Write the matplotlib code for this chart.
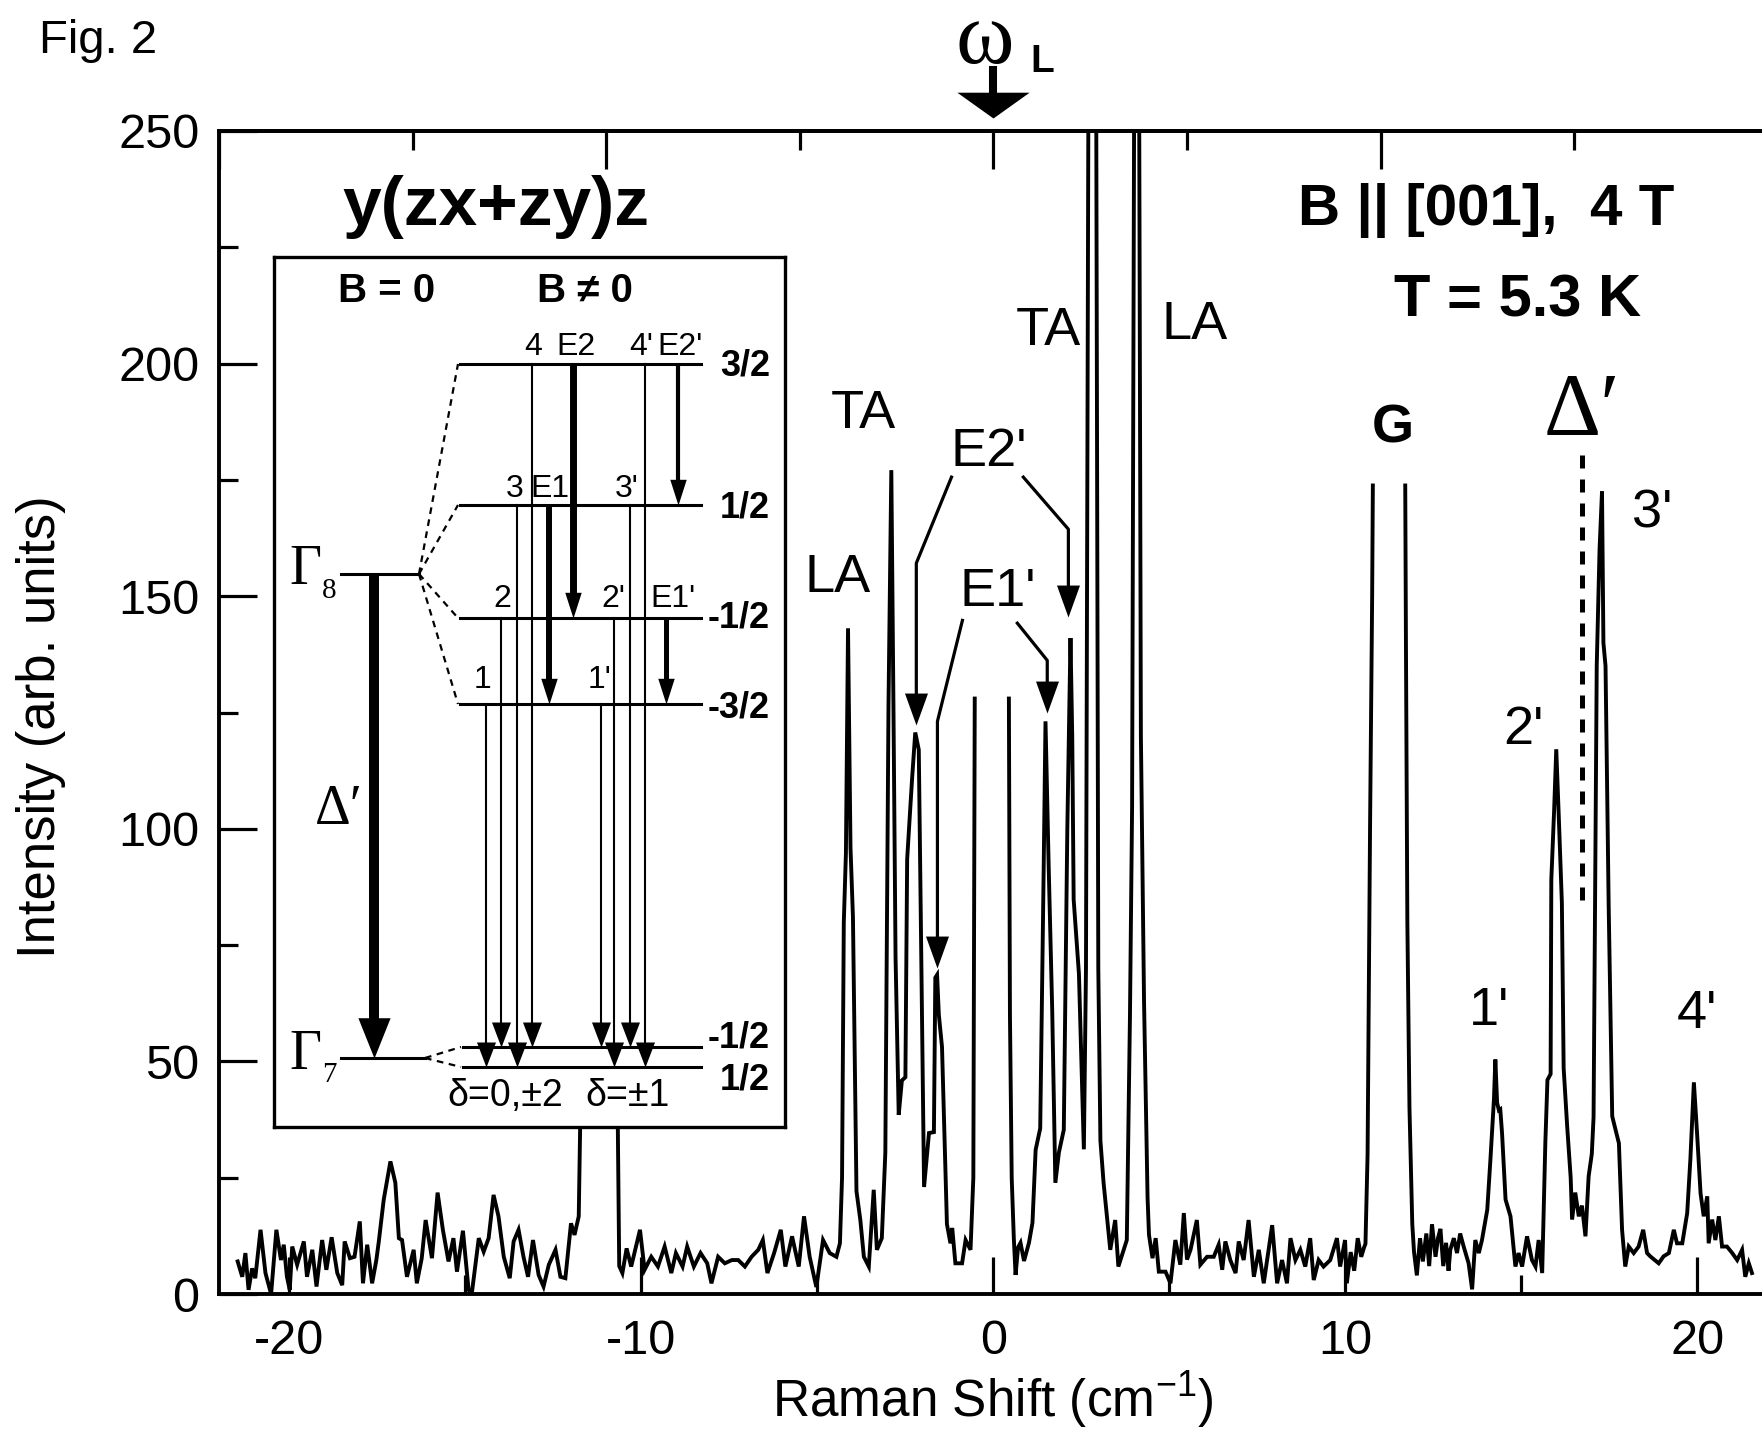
import numpy as np
import matplotlib
matplotlib.use("Agg")
import matplotlib.pyplot as plt
from matplotlib.ticker import MultipleLocator

plt.rcParams['font.family'] = ['Liberation Sans', 'DejaVu Sans']
plt.rcParams['mathtext.fontset'] = 'custom'
plt.rcParams['mathtext.rm'] = 'Liberation Sans'
plt.rcParams['axes.unicode_minus'] = False

W, H = 1762, 1437
SERIF = ['Liberation Serif', 'DejaVu Serif']

# ---- spectrum (Raman shift in cm^-1, intensity arb. units)
# three pieces: the original trace is cut at the laser line and at the G line
shift_a = [-21.47, -21.34, -21.25, -21.16, -21.06, -20.97, -20.82, -20.68, -20.52, -20.37,
           -20.24, -20.16, -20.07, -19.99, -19.92, -19.78, -19.59, -19.50, -19.35, -19.23,
           -19.07, -18.95, -18.80, -18.64, -18.50, -18.43, -18.28, -18.15, -18.00, -17.91,
           -17.79, -17.65, -17.53, -17.46, -17.32, -17.13, -16.99, -16.89, -16.80, -16.66,
           -16.47, -16.38, -16.24, -16.13, -15.95, -15.79, -15.64, -15.48, -15.34, -15.24,
           -15.07, -14.91, -14.82, -14.62, -14.48, -14.34, -14.20, -14.06, -13.91, -13.74,
           -13.63, -13.49, -13.35, -13.22, -13.08, -12.92, -12.78, -12.63, -12.44, -12.30,
           -12.16, -12.00, -11.90, -11.78, -11.74, -11.60, -11.20, -10.80, -10.67, -10.63,
           -10.54, -10.42, -10.29, -10.04, -9.91, -9.72, -9.53, -9.34, -9.15, -9.02,
           -8.83, -8.70, -8.51, -8.32, -8.13, -8.01, -7.82, -7.63, -7.43, -7.25,
           -7.06, -6.87, -6.68, -6.55, -6.42, -6.23, -6.04, -5.91, -5.72, -5.53,
           -5.38, -5.22, -5.03, -4.84, -4.65, -4.46, -4.36, -4.30, -4.25, -4.19,
           -4.13, -4.06, -3.99, -3.89, -3.78, -3.68, -3.54, -3.40, -3.31, -3.17,
           -3.07, -2.98, -2.90, -2.84, -2.78, -2.69, -2.60, -2.50, -2.45, -2.31,
           -2.22, -2.12, -2.07, -1.97, -1.83, -1.69, -1.65, -1.60, -1.55, -1.46,
           -1.32, -1.22, -1.17, -1.08, -0.89, -0.79, -0.65, -0.57, -0.53]
int_a = [7.0, 3.7, 8.8, 0.9, 5.5, 3.4, 13.8, 4.5, 0.0, 13.8,
         7.3, 10.6, 3.7, 0.9, 10.2, 6.3, 11.3, 3.7, 9.5, 1.6,
         11.6, 5.2, 12.2, 4.5, 1.9, 11.3, 7.7, 8.0, 15.6, 2.3,
         10.6, 2.3, 7.3, 11.3, 20.3, 28.5, 23.9, 12.0, 11.6, 3.7,
         9.5, 2.3, 7.7, 15.9, 7.7, 21.8, 13.8, 7.0, 12.0, 4.8,
         13.6, 0.9, 0.0, 12.0, 9.1, 12.0, 21.3, 16.7, 8.0, 3.4,
         11.3, 13.8, 8.0, 3.7, 11.6, 4.1, 1.6, 6.3, 9.5, 3.7,
         3.4, 15.2, 12.7, 16.7, 36.0, 120.0, 175.0, 120.0, 36.0, 6.0,
         4.5, 9.8, 5.9, 13.8, 5.2, 8.0, 5.9, 10.2, 4.5, 8.8,
         5.9, 10.2, 5.9, 8.8, 6.6, 2.3, 8.0, 6.6, 7.3, 7.3,
         5.9, 8.0, 9.5, 11.6, 4.5, 8.8, 13.8, 5.9, 12.4, 5.9,
         16.7, 8.0, 1.5, 11.6, 8.8, 8.0, 10.9, 25.0, 79.9, 94.7,
         143.1, 96.0, 81.0, 22.1, 15.9, 8.0, 5.9, 22.4, 9.5, 12.0,
         30.4, 126.8, 177.1, 126.8, 72.5, 38.5, 45.9, 46.6, 93.5, 110.8,
         120.7, 117.0, 86.1, 23.0, 34.6, 34.8, 68.0, 68.6, 60.0, 53.1,
         15.0, 10.9, 14.2, 6.6, 6.6, 11.6, 9.5, 25.0, 128.0]

shift_b = [0.44, 0.47, 0.52, 0.58, 0.63, 0.70, 0.77, 0.87, 1.01, 1.11,
           1.20, 1.33, 1.43, 1.48, 1.57, 1.67, 1.76, 1.86, 2.00, 2.10,
           2.19, 2.24, 2.28, 2.43, 2.57, 2.63, 2.70, 2.92, 2.98, 3.04,
           3.13, 3.32, 3.46, 3.55, 3.79, 3.88, 3.94, 4.00, 4.14, 4.19,
           4.28, 4.38, 4.42, 4.52, 4.61, 4.70, 4.89, 5.03, 5.17, 5.31,
           5.41, 5.50, 5.60, 5.78, 5.88, 6.07, 6.26, 6.40, 6.50, 6.59,
           6.73, 6.88, 6.97, 7.11, 7.25, 7.40, 7.54, 7.68, 7.92, 8.06,
           8.20, 8.34, 8.44, 8.58, 8.72, 8.86, 9.00, 9.10, 9.24, 9.38,
           9.57, 9.76, 9.85, 9.99, 10.04, 10.15, 10.25, 10.35, 10.45, 10.53,
           10.57, 10.63, 10.70, 10.76, 10.78]
int_b = [128.0, 60.0, 25.0, 12.0, 4.1, 10.0, 11.0, 7.1, 11.0, 15.3,
         31.0, 35.6, 92.4, 123.1, 92.0, 61.3, 23.9, 30.4, 35.3, 100.0,
         141.0, 119.7, 84.8, 68.8, 31.1, 70.0, 260.0, 260.0, 70.0, 33.0,
         23.9, 9.5, 15.9, 5.9, 11.6, 60.0, 104.6, 260.0, 260.0, 120.0,
         62.6, 20.6, 12.7, 7.7, 12.0, 4.8, 4.8, 2.3, 11.6, 6.3,
         17.4, 7.4, 9.5, 15.9, 6.3, 8.0, 8.0, 10.6, 5.2, 11.3,
         7.3, 4.5, 11.3, 7.3, 15.9, 3.7, 9.5, 2.3, 14.8, 2.3,
         7.3, 2.3, 12.0, 7.3, 9.5, 5.9, 12.0, 3.0, 7.3, 5.9,
         7.3, 12.0, 5.9, 11.6, 2.3, 9.0, 5.0, 12.0, 8.0, 10.0,
         10.8, 30.0, 100.0, 150.0, 173.8]

shift_c = [11.70, 11.72, 11.76, 11.82, 11.90, 11.95, 12.03, 12.12, 12.20, 12.30,
           12.38, 12.46, 12.56, 12.63, 12.70, 12.78, 12.86, 12.93, 12.98, 13.08,
           13.17, 13.26, 13.36, 13.50, 13.60, 13.69, 13.79, 13.88, 14.03, 14.12,
           14.22, 14.26, 14.31, 14.36, 14.40, 14.45, 14.55, 14.69, 14.83, 14.92,
           15.02, 15.16, 15.30, 15.40, 15.49, 15.59, 15.68, 15.74, 15.83, 15.85,
           15.93, 15.99, 16.06, 16.15, 16.20, 16.30, 16.40, 16.44, 16.53, 16.63,
           16.72, 16.82, 16.91, 17.00, 17.05, 17.14, 17.22, 17.29, 17.33, 17.39,
           17.48, 17.58, 17.72, 17.77, 17.86, 17.95, 18.05, 18.19, 18.33, 18.46,
           18.57, 18.66, 18.90, 19.04, 19.19, 19.33, 19.42, 19.57, 19.71, 19.80,
           19.90, 19.99, 20.09, 20.18, 20.28, 20.32, 20.42, 20.51, 20.61, 20.70,
           20.84, 20.99, 21.13, 21.27, 21.36, 21.46, 21.55]
int_c = [173.8, 140.0, 80.0, 40.0, 15.0, 9.0, 4.0, 12.0, 7.0, 13.0,
         6.0, 15.0, 8.0, 12.0, 14.0, 6.0, 11.0, 5.0, 9.5, 12.0,
         8.8, 13.0, 10.2, 6.6, 1.0, 11.6, 8.8, 11.6, 18.1, 28.9,
         41.8, 50.4, 41.1, 39.5, 39.7, 34.6, 20.3, 16.7, 5.9, 8.8,
         5.9, 12.4, 7.3, 5.9, 11.6, 4.5, 32.5, 46.0, 47.3, 89.1,
         104.0, 117.1, 103.0, 84.0, 48.6, 36.1, 25.0, 16.0, 21.8, 16.7,
         19.0, 12.4, 25.3, 30.1, 38.0, 135.0, 160.0, 172.5, 140.0, 135.0,
         83.1, 38.2, 33.9, 32.4, 13.8, 5.9, 10.2, 8.8, 10.2, 13.8,
         8.8, 8.1, 6.6, 8.1, 8.8, 13.8, 10.9, 10.9, 17.4, 28.9,
         45.5, 34.6, 21.6, 16.7, 21.0, 10.9, 16.0, 11.6, 16.7, 10.2,
         10.2, 8.8, 7.3, 9.5, 3.7, 6.6, 4.5]

shift = shift_a + [np.nan] + shift_b + [np.nan] + shift_c
intensity = int_a + [np.nan] + int_b + [np.nan] + int_c

# peak labels: text, x, y (baseline), bold
peak_labels = [("TA", -3.69, 186.2, False), ("LA", -4.43, 150.9, False),
               ("E2'", -0.12, 178.0, False), ("E1'", 0.12, 147.8, False),
               ("TA", 1.56, 203.9, False), ("LA", 5.71, 205.2, False),
               ("G", 11.34, 183.0, True), ("3'", 18.72, 164.7, False),
               ("2'", 15.06, 118.3, False), ("1'", 14.09, 57.8, False),
               ("4'", 20.0, 57.1, False)]

# arrows pointing at the E2', E1' peaks (polyline, tip last)
peak_arrows = [[(-1.19, 175.6), (-2.19, 157.1), (-2.19, 122.4)],
               [(0.85, 175.6), (2.13, 164.4), (2.13, 145.5)],
               [(-0.88, 144.8), (-1.59, 123.1), (-1.59, 70.0)],
               [(0.68, 144.2), (1.53, 136.2), (1.53, 125.0)]]


def head(ratio):
    # arrow head marker, tip at the anchor point, pointing down
    return [(-ratio, 1.0), (ratio, 1.0), (0.0, 0.0), (-ratio, 1.0)]


fig = plt.figure(figsize=(W / 100, H / 100), dpi=100)
ax = fig.add_axes([219 / W, 1 - 1294 / H, 44 * 35.2 / W, 1163 / H])
ax.plot(shift, intensity, color='black', lw=2.8, solid_joinstyle='miter')
ax.set_xlim(-22, 22)
ax.set_ylim(0, 250)

ax.xaxis.set_major_locator(MultipleLocator(10))
ax.xaxis.set_minor_locator(MultipleLocator(5))
ax.yaxis.set_major_locator(MultipleLocator(50))
ax.yaxis.set_minor_locator(MultipleLocator(25))
ax.tick_params(which='both', direction='in', width=2.3, labelsize=35, top=False, right=False)
ax.tick_params(which='major', length=27)
ax.tick_params(which='minor', length=14)
ax.tick_params(axis='x', pad=18)
ax.tick_params(axis='y', pad=14)
for s in ax.spines.values():
    s.set_linewidth(2.8)

top = ax.secondary_xaxis('top')
top.xaxis.set_major_locator(MultipleLocator(11))
top.xaxis.set_minor_locator(MultipleLocator(5.5))
top.tick_params(which='both', direction='in', width=2.3, labeltop=False)
top.tick_params(which='major', length=27)
top.tick_params(which='minor', length=14)
top.spines['top'].set_linewidth(2.8)

for txt, x, y, bold in peak_labels:
    ax.text(x, y, txt, fontsize=39, ha='center', va='baseline',
            fontweight='bold' if bold else 'normal')
ax.text(16.72, 184.9, "Δ′", fontsize=64, family=SERIF, ha='center', va='baseline')
ax.plot([16.72, 16.72], [180.4, 82.5], color='black', lw=3.6, linestyle=(0, (2.6, 2.2)))

for path in peak_arrows:
    xs = [p[0] for p in path]
    ys = [p[1] for p in path]
    ys[-1] += 4
    ax.plot(xs, ys, color='black', lw=2.3)
    ax.plot(path[-1][0], path[-1][1], marker=head(0.36), ms=46, color='black', mew=0)

ax.text(-14.12, 229.7, "y(zx+zy)z", fontsize=50, fontweight='bold', ha='center', va='baseline')
ax.text(14.0, 229.7, "B || [001],  4 T", fontsize=42, fontweight='bold', ha='center', va='baseline')
ax.text(14.89, 210.1, "T = 5.3 K", fontsize=43, fontweight='bold', ha='center', va='baseline')

# laser line marker above the frame
ax.plot([0, 0], [263.1, 256.0], color='black', lw=5.8, clip_on=False)
ax.plot(0, 252.8, marker=head(1.4), ms=52, color='black', mew=0, clip_on=False)
fig.text(985 / W, 1 - 63 / H, "ω", family=SERIF, fontsize=64, ha='center', va='baseline')
fig.text(1030 / W, 1 - 72 / H, "L", fontsize=28, fontweight='bold', ha='left', va='baseline')
fig.text(39 / W, 1 - 53 / H, "Fig. 2", fontsize=34, ha='left', va='baseline')

fig.text(41 / W, 1 - 727 / H, "Intensity (arb. units)", fontsize=38, rotation=90,
         ha='center', va='center')
fig.text(993 / W, 1 - 1400 / H, "Raman Shift (cm$^{-1}$)", fontsize=37, ha='center', va='center')

# ---- inset: level scheme, drawn in its own pixel-like frame (y grows downward)
split_y = [364, 505, 618, 704]
split_names = ['3/2', '1/2', '-1/2', '-3/2']
split_base = [375, 517, 628, 717]
ground_y = [1047, 1067]
ground_names = ['-1/2', '1/2']
ground_base = [1048, 1090]
gamma8_y, gamma7_y = 574, 1058

thin_x = [486, 501, 517, 532, 601, 614, 630, 645]
thin_from = [704, 618, 505, 364, 704, 618, 505, 364]
thin_to = [1067, 1047, 1067, 1047, 1047, 1067, 1047, 1067]

thick_x = [573, 549, 678, 666]
thick_from = [364, 505, 364, 618]
thick_to = [618, 704, 505, 704]
thick_lw = [5.0, 4.3, 3.0, 3.6]

trans_labels = [('4', 533, 355), ('E2', 576, 355), ("4'", 641, 355), ("E2'", 680, 355),
                ('3', 515, 497), ('E1', 550, 497), ("3'", 627, 497),
                ('2', 502, 607), ("2'", 613, 607), ("E1'", 673, 607),
                ('1', 482, 688), ("1'", 600, 688)]

ins = fig.add_axes([274 / W, 1 - 1127 / H, 511 / W, 870 / H])
ins.set_xlim(274, 785)
ins.set_ylim(1127, 257)
ins.set_xticks([])
ins.set_yticks([])
for s in ins.spines.values():
    s.set_linewidth(2.4)

ins.text(387, 302, "B = 0", fontsize=29, fontweight='bold', ha='center', va='baseline')
ins.text(585, 302, "B ≠ 0", fontsize=29, fontweight='bold', ha='center', va='baseline')

ins.plot([341, 419], [gamma8_y, gamma8_y], color='black', lw=2.2)
ins.plot([341, 425], [gamma7_y, gamma7_y], color='black', lw=2.2)
for y, name, yb in zip(split_y, split_names, split_base):
    ins.plot([419, 458], [gamma8_y, y], color='black', lw=1.6, linestyle=(0, (3, 2.5)))
    ins.plot([460, 701], [y, y], color='black', lw=2.2)
    ins.text(770, yb, name, fontsize=26, fontweight='bold', ha='right', va='baseline')
for y, name, yb in zip(ground_y, ground_names, ground_base):
    ins.plot([425, 461], [gamma7_y, y], color='black', lw=1.6, linestyle=(0, (3, 2.5)))
    ins.plot([463, 701], [y, y], color='black', lw=2.2)
    ins.text(770, yb, name, fontsize=26, fontweight='bold', ha='right', va='baseline')

for x, y0, y1 in zip(thin_x, thin_from, thin_to):
    ins.plot([x, x], [y0, y1 - 12], color='black', lw=1.5)
    ins.plot(x, y1, marker=head(0.38), ms=36, color='black', mew=0)
for x, y0, y1, lw in zip(thick_x, thick_from, thick_to, thick_lw):
    ins.plot([x, x], [y0, y1 - 12], color='black', lw=lw, solid_capstyle='butt')
    ins.plot(x, y1, marker=head(0.32), ms=37, color='black', mew=0)

ins.plot([374, 374], [gamma8_y, gamma7_y - 20], color='black', lw=7.2, solid_capstyle='butt')
ins.plot(374, gamma7_y, marker=head(0.4), ms=58, color='black', mew=0)
ins.text(315, 824, "Δ′", family=SERIF, fontsize=40, ha='left', va='baseline')

ins.text(289, 584, "Γ", family=SERIF, fontsize=40, ha='left', va='baseline')
ins.text(322, 598, "8", family=SERIF, fontsize=21, ha='left', va='baseline')
ins.text(289, 1069, "Γ", family=SERIF, fontsize=40, ha='left', va='baseline')
ins.text(322, 1082, "7", family=SERIF, fontsize=21, ha='left', va='baseline')

for txt, x, yb in trans_labels:
    ins.text(x, yb, txt, fontsize=23, ha='center', va='baseline')

ins.text(505, 1106, "δ=0,±2", fontsize=27, ha='center', va='baseline')
ins.text(628, 1106, "δ=±1", fontsize=27, ha='center', va='baseline')

fig.savefig("out.png", dpi=100)
